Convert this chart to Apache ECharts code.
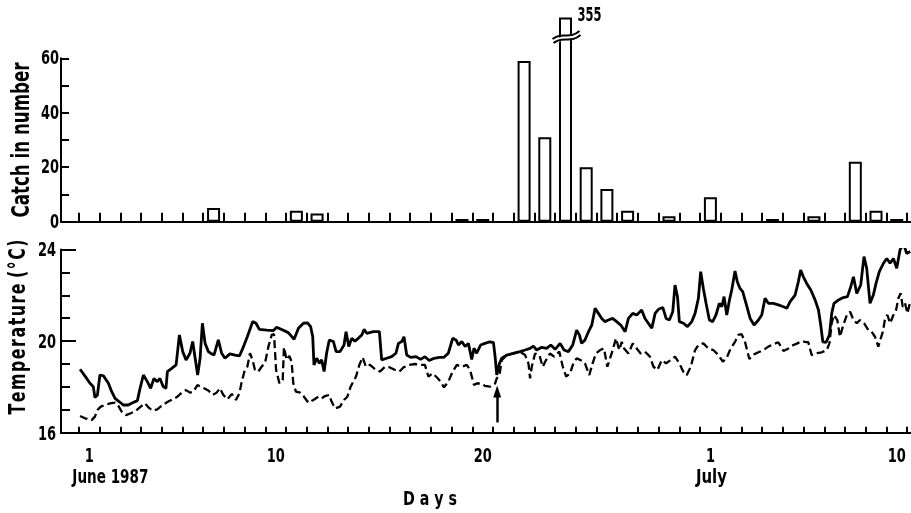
<!DOCTYPE html>
<html>
<head>
<meta charset="utf-8">
<script src="https://cdn.jsdelivr.net/npm/echarts@6/dist/echarts.min.js"></script>
<style>html,body{margin:0;padding:0;background:#fff;}#c{width:911px;height:513px;}</style>
</head>
<body>
<div id="c"></div>
<script>
// ---- data ----
const dayTicks = [0,1,2,3,4,5,6,7,8,9,10,11,12,13,14,15,16,17,18,19,20,21,22,23,24,25,26,27,28,29,30,31,32,33,34,35,36,37,38,39,40];
const xLabelValues = [0.5, 9.5, 19.5, 30.5, 39.5];
const xLabelTexts = ['1', '10', '20', '1', '10'];
const monthLabels = [{at: 0.5, text: 'June 1987', anchor: 'left'}, {at: 30.5, text: 'July', anchor: 'center'}];
const catchTickLabels = [0, 20, 40, 60];
const tempTickLabels = [16, 20, 24];

const catchDays = [7, 11, 12, 19, 20, 22, 23, 24, 25, 26, 27, 29, 31, 34, 36, 38, 39, 40];
const catchValues = [5, 4, 3, 1, 1, 59, 31, 355, 20, 12, 4, 2, 9, 1, 2, 22, 4, 1];
const catchBreakCap = 75;
const catchBreakAt = 67.8;

const solidTemp = [[0.05,18.77],[0.37,18.37],[0.53,18.16],[0.69,18.01],[0.77,17.54],[0.89,17.65],[1.01,18.52],[1.18,18.48],[1.42,18.16],[1.58,17.79],[1.74,17.50],[1.95,17.35],[2.14,17.21],[2.38,17.21],[2.59,17.31],[2.82,17.40],[2.95,17.94],[3.11,18.52],[3.30,18.23],[3.46,17.94],[3.62,18.37],[3.78,18.23],[3.91,18.37],[4.07,18.01],[4.20,17.94],[4.27,18.67],[4.48,18.81],[4.69,18.96],[4.85,20.27],[5.01,19.54],[5.17,19.17],[5.36,19.47],[5.49,19.98],[5.60,19.32],[5.73,18.52],[5.85,19.25],[5.96,20.78],[6.09,19.90],[6.25,19.54],[6.36,19.47],[6.52,19.39],[6.73,20.05],[6.89,19.47],[7.05,19.25],[7.29,19.44],[7.54,19.39],[7.75,19.35],[7.91,19.68],[8.13,20.19],[8.39,20.85],[8.55,20.78],[8.71,20.51],[9.07,20.48],[9.39,20.46],
[9.55,20.60],[9.79,20.51],[10.11,20.37],[10.39,20.08],[10.60,20.56],[10.84,20.78],[11.03,20.80],[11.19,20.63],[11.29,20.19],[11.35,18.96],[11.48,19.25],[11.61,19.03],[11.72,19.18],[11.84,18.67],[11.96,19.47],[12.09,20.05],[12.29,19.98],[12.42,19.54],[12.61,19.54],[12.80,19.83],[12.90,20.41],[13.03,19.76],[13.17,20.12],[13.33,20.00],[13.49,20.12],[13.66,20.27],[13.77,20.51],[13.90,20.34],[14.22,20.41],[14.51,20.41],[14.62,19.18],[14.86,19.25],[15.10,19.32],[15.31,19.47],[15.43,19.90],[15.59,19.98],[15.70,20.19],[15.83,19.39],[16.02,19.29],[16.28,19.32],[16.50,19.20],[16.71,19.32],[16.92,19.15],[17.15,19.25],[17.41,19.29],[17.63,19.29],[17.84,19.47],[18.05,20.12],[18.21,20.05],[18.33,19.83],[18.49,19.98],[18.65,19.76],[18.81,19.90],[18.97,19.20],[19.08,19.69],[19.21,19.47],[19.40,19.83],[19.61,19.90],
[19.85,19.97],[20.02,19.93],[20.10,19.32],[20.18,18.52],[20.31,19.03],[20.42,19.25],[20.66,19.39],[20.98,19.46],[21.30,19.54],[21.55,19.61],[21.79,19.68],[21.95,19.78],[22.11,19.61],[22.35,19.73],[22.59,19.68],[22.79,19.83],[23.00,19.64],[23.24,19.90],[23.43,19.61],[23.64,19.54],[23.85,19.83],[24.04,20.48],[24.17,20.27],[24.28,19.90],[24.44,20.05],[24.61,20.41],[24.77,20.70],[24.93,21.43],[25.09,21.21],[25.25,20.99],[25.41,20.85],[25.57,20.92],[25.78,20.99],[25.97,20.85],[26.17,20.70],[26.38,20.41],[26.54,20.99],[26.75,21.21],[26.94,21.14],[27.18,21.36],[27.34,20.99],[27.50,20.78],[27.67,20.56],[27.83,21.21],[27.99,21.39],[28.20,21.47],[28.36,20.99],[28.52,20.92],[28.68,21.28],[28.79,22.45],[28.91,21.94],[29.00,20.85],[29.20,20.78],[29.39,20.63],[29.60,20.85],[29.76,21.21],
[29.92,21.87],[30.03,23.03],[30.16,22.30],[30.29,21.65],[30.45,20.92],[30.61,20.85],[30.77,21.14],[30.93,21.65],[31.05,21.50],[31.16,21.94],[31.29,21.14],[31.42,21.79],[31.53,22.23],[31.69,23.06],[31.80,22.59],[31.93,22.30],[32.06,22.16],[32.22,21.65],[32.42,20.99],[32.61,20.70],[32.82,20.92],[32.98,21.14],[33.14,21.87],[33.30,21.65],[33.54,21.65],[33.78,21.58],[34.03,21.50],[34.19,21.43],[34.35,21.72],[34.59,22.01],[34.75,22.60],[34.86,23.10],[34.99,22.81],[35.15,22.52],[35.35,22.23],[35.56,21.79],[35.72,21.36],[35.83,20.70],[35.93,19.97],[36.09,19.95],[36.25,20.27],[36.36,21.21],[36.47,21.65],[36.68,21.79],[36.92,21.90],[37.12,21.94],[37.28,22.38],[37.41,22.81],[37.57,22.08],[37.76,22.45],[37.92,23.69],[38.05,23.18],[38.21,21.65],[38.37,22.01],[38.50,22.52],[38.66,23.03],[38.86,23.40],[39.02,23.61],[39.18,23.40],[39.34,23.61],[39.50,23.18],[39.66,23.98],[39.82,24.27],[39.98,23.83],[40.15,23.91]];

const dashedTemp = [[0.05,16.73],[0.29,16.63],[0.61,16.55],[0.77,16.70],[0.89,16.99],[1.05,17.14],[1.26,17.21],[1.50,17.28],[1.74,17.31],[1.90,17.17],[2.06,16.92],[2.27,16.77],[2.50,16.85],[2.75,16.96],[2.98,17.14],[3.19,17.28],[3.35,17.11],[3.56,16.96],[3.78,17.02],[4.04,17.21],[4.27,17.34],[4.53,17.46],[4.75,17.57],[4.96,17.75],[5.17,17.86],[5.36,17.75],[5.52,17.79],[5.72,18.08],[5.88,18.01],[6.04,17.94],[6.25,17.84],[6.46,17.65],[6.65,17.75],[6.81,17.94],[6.97,17.65],[7.17,17.46],[7.38,17.69],[7.58,17.43],[7.75,17.72],[7.86,18.23],[7.99,18.67],[8.13,18.88],[8.26,19.47],[8.39,19.15],[8.50,18.74],[8.66,18.67],[8.82,18.88],[8.99,19.06],[9.15,19.76],[9.31,20.27],[9.42,20.31],
[9.52,18.74],[9.68,18.16],[9.84,18.30],[9.90,19.73],[10.03,19.18],[10.16,19.35],[10.27,19.10],[10.35,18.16],[10.48,17.79],[10.68,17.75],[10.84,17.60],[11.08,17.31],[11.32,17.43],[11.56,17.57],[11.72,17.50],[11.88,17.60],[12.09,17.65],[12.20,17.36],[12.37,17.06],[12.61,17.14],[12.80,17.43],[12.96,17.57],[13.12,18.01],[13.38,18.45],[13.54,18.96],[13.70,19.29],[13.86,18.88],[14.06,18.96],[14.30,18.77],[14.54,18.67],[14.78,18.88],[15.02,18.85],[15.27,18.74],[15.48,18.67],[15.67,18.85],[15.96,18.96],[16.23,19.00],[16.50,18.96],[16.71,18.96],[16.88,18.45],[17.08,18.59],[17.28,18.42],[17.47,18.23],[17.63,17.98],[17.84,18.23],[18.05,18.67],[18.25,18.96],[18.49,18.88],[18.73,18.96],[18.89,18.74],[19.08,18.08],[19.24,18.16],[19.50,18.13],
[19.61,18.04],[19.85,18.01],[20.10,18.15],[20.18,18.37],[20.31,18.52],[20.42,19.17],[20.66,19.39],[20.98,19.46],[21.30,19.54],[21.55,19.39],[21.71,19.03],[21.79,18.37],[21.87,18.88],[22.03,19.46],[22.24,19.39],[22.40,18.88],[22.56,19.17],[22.75,19.46],[22.95,19.32],[23.20,19.54],[23.37,18.88],[23.53,18.45],[23.72,18.59],[23.88,19.03],[24.04,19.25],[24.23,19.17],[24.44,19.03],[24.65,18.52],[24.81,19.03],[24.97,19.46],[25.17,19.61],[25.36,19.68],[25.52,18.88],[25.73,19.46],[25.94,20.12],[26.10,19.61],[26.22,19.97],[26.33,19.68],[26.54,19.46],[26.75,19.90],[26.94,19.68],[27.13,19.46],[27.34,19.54],[27.58,19.32],[27.75,18.88],[27.94,18.74],[28.15,19.17],[28.36,19.03],[28.58,19.17],[28.79,19.32],[29.00,19.03],[29.23,18.59],[29.36,18.52],[29.55,18.88],[29.76,19.61],
[29.92,19.83],[30.16,19.90],[30.40,19.68],[30.64,19.61],[30.89,19.39],[31.10,19.10],[31.29,19.28],[31.48,19.68],[31.69,19.97],[31.85,20.27],[32.01,20.30],[32.17,19.97],[32.38,19.22],[32.61,19.42],[32.82,19.51],[33.06,19.61],[33.30,19.76],[33.54,19.86],[33.78,19.95],[34.03,19.57],[34.27,19.68],[34.51,19.83],[34.70,19.90],[34.91,20.00],[35.07,19.97],[35.23,19.95],[35.39,19.39],[35.64,19.47],[35.88,19.51],[36.12,19.61],[36.25,19.90],[36.36,20.78],[36.47,21.14],[36.63,20.92],[36.76,20.19],[36.92,20.70],[37.09,21.14],[37.25,21.28],[37.41,20.92],[37.57,20.78],[37.73,20.92],[37.92,20.78],[38.13,20.48],[38.29,20.41],[38.45,20.19],[38.61,19.76],[38.70,19.68],[38.83,20.41],[38.94,20.99],[39.05,21.14],[39.18,20.78],[39.34,21.14],[39.47,21.36],[39.58,21.87],[39.69,22.09],[39.79,21.50],[39.90,21.65],[40.02,21.21],[40.15,21.72]];

const arrowDay = 20.2;
const arrowFrom = 16.45, arrowTo = 17.8;

// ---- chart ----
const FONT = "'DejaVu Sans Condensed', 'DejaVu Sans', sans-serif";
const chart = echarts.init(document.getElementById('c'), null, {renderer: 'canvas'});

const barData = catchDays.map((d, i) => {
  const v = catchValues[i];
  return {value: [d - 0.5, Math.min(v, catchBreakCap)]};
});
const breakItems = catchDays.map((d, i) => catchValues[i] > catchBreakCap ? [d - 0.5, catchBreakAt] : null).filter(Boolean);

const axisLineStyle = {onZero: false, lineStyle: {color: '#000', width: 2}};
const xCommon = {type: 'value', min: -0.87, max: 40.19, splitLine: {show: false}, axisLabel: {show: false},
  axisLine: axisLineStyle};

chart.setOption({
  animation: false,
  grid: [
    {left: 61, top: 58.3, width: 850, height: 163.4, outerBoundsMode: 'none', containLabel: false},
    {left: 61, top: 249.5, width: 850, height: 183.2, outerBoundsMode: 'none', containLabel: false}
  ],
  xAxis: [
    Object.assign({}, xCommon, {gridIndex: 0,
      axisTick: {inside: true, length: 9, customValues: dayTicks, lineStyle: {color: '#000', width: 2}}}),
    Object.assign({}, xCommon, {gridIndex: 1,
      axisTick: {inside: true, length: 6, customValues: dayTicks, lineStyle: {color: '#000', width: 2}}})
  ],
  yAxis: [
    {type: 'value', gridIndex: 0, min: 0, max: 60, interval: 10, position: 'left',
      axisLine: Object.assign({show: true}, axisLineStyle),
      axisTick: {show: true, inside: true, length: 8, lineStyle: {color: '#000', width: 2}},
      splitLine: {show: false}, axisLabel: {show: false}},
    {type: 'value', gridIndex: 1, min: 16, max: 24, interval: 1, position: 'left',
      axisLine: Object.assign({show: true}, axisLineStyle),
      axisTick: {show: true, inside: true, length: 9, lineStyle: {color: '#000', width: 2}},
      splitLine: {show: false}, axisLabel: {show: false}},
    {type: 'value', gridIndex: 1, min: 16, max: 24, interval: 4, position: 'left', offset: 0,
      axisLine: {show: false, onZero: false}, splitLine: {show: false}, axisLabel: {show: false},
      axisTick: {show: true, inside: true, length: 15, lineStyle: {color: '#000', width: 2}}}
  ],
  series: [
    {type: 'bar', xAxisIndex: 0, yAxisIndex: 0, data: barData, barWidth: 13, clip: false,
      itemStyle: {color: '#fff', borderColor: '#000', borderWidth: 2}},
    {type: 'custom', xAxisIndex: 0, yAxisIndex: 0, data: breakItems, z: 5,
      renderItem: function (params, api) {
        const p = api.coord([api.value(0), api.value(1)]);
        const x = p[0], y = p[1];
        return {type: 'group', children: [
          {type: 'polygon', shape: {points: [[x - 8, y + 1], [x + 8, y - 3], [x + 8, y + 1], [x - 8, y + 5]]}, style: {fill: '#fff'}},
          {type: 'bezierCurve', shape: {x1: x - 13, y1: y + 2, cpx1: x - 4, cpy1: y - 6, cpx2: x + 4, cpy2: y + 3, x2: x + 14, y2: y - 6},
            style: {stroke: '#000', lineWidth: 2, fill: null}},
          {type: 'bezierCurve', shape: {x1: x - 12, y1: y + 6, cpx1: x - 3, cpy1: y - 2, cpx2: x + 5, cpy2: y + 7, x2: x + 15, y2: y - 2},
            style: {stroke: '#000', lineWidth: 2, fill: null}}
        ]};
      }
    },
    {type: 'line', xAxisIndex: 1, yAxisIndex: 1, data: solidTemp, showSymbol: false, symbol: 'none',
      lineStyle: {color: '#000', width: 2.8}, z: 3,
      markLine: {silent: true, symbol: ['none', 'triangle'], symbolSize: [8, 12], label: {show: false},
        lineStyle: {color: '#000', width: 2.5, type: 'solid'},
        data: [[{coord: [arrowDay, arrowFrom]}, {coord: [arrowDay, arrowTo]}]]}
    },
    {type: 'line', xAxisIndex: 1, yAxisIndex: 1, data: dashedTemp, showSymbol: false, symbol: 'none',
      lineStyle: {color: '#000', width: 2.3, type: [8, 4]}, z: 2}
  ]
});

// ---- text (condensed bold, placed through the axes' own scales) ----
const mctx = document.createElement('canvas').getContext('2d');
function fontStr(size) { return 'bold ' + size + 'px ' + FONT; }
function fit(text, size, target) { mctx.font = fontStr(size); return target / mctx.measureText(text).width; }
const px = (i, v) => chart.convertToPixel({xAxisIndex: i}, v);
const py = (i, v) => chart.convertToPixel({yAxisIndex: i}, v);
const DIGIT_SCALE = 0.76;
function txt(x, y, text, size, align, sx, rot) {
  return {type: 'text', x: x, y: y, scaleX: sx, rotation: rot || 0, silent: true,
    style: {text: text, font: fontStr(size), fill: '#000', align: align, verticalAlign: 'middle'}};
}
const g = [];
const yAxisX = px(0, -0.87);
catchTickLabels.forEach(v => g.push(txt(yAxisX - 2, py(0, v) + 1, String(v), 19, 'right', DIGIT_SCALE)));
tempTickLabels.forEach(v => g.push(txt(yAxisX - 5, py(1, v) + 2, String(v), 19, 'right', DIGIT_SCALE)));
const xAxisY = py(1, 16);
xLabelValues.forEach((v, i) => g.push(txt(px(1, v), xAxisY + 24, xLabelTexts[i], 19, 'center', DIGIT_SCALE)));
monthLabels.forEach(m => {
  const x = m.anchor === 'left' ? px(1, m.at) - 17 : px(1, m.at) + 1;
  g.push(txt(x, xAxisY + 45, m.text, 19, m.anchor, fit(m.text, 19, m.anchor === 'left' ? 76 : 31)));
});
g.push(txt(430, xAxisY + 67, 'D a y s', 20, 'center', fit('D a y s', 20, 54)));
const catchName = 'Catch in number';
g.push(txt(23, (py(0, 0) + py(0, 60)) / 2, catchName, 24, 'center', fit(catchName, 24, 155), Math.PI / 2));
const tempName = 'T\u200Ae\u200Am\u200Ap\u200Ae\u200Ar\u200Aa\u200At\u200Au\u200Ar\u200Ae (\u200A°\u200AC\u200A)';
g.push(txt(19, 327, tempName, 23, 'center', fit(tempName, 23, 175), Math.PI / 2));
catchDays.forEach((d, i) => {
  if (catchValues[i] > catchBreakCap) {
    g.push(txt(px(0, d - 0.5) + 12, py(0, catchBreakCap) - 2, String(catchValues[i]), 20, 'left', fit('355', 20, 24)));
  }
});
chart.setOption({graphic: g});
</script>
</body>
</html>
